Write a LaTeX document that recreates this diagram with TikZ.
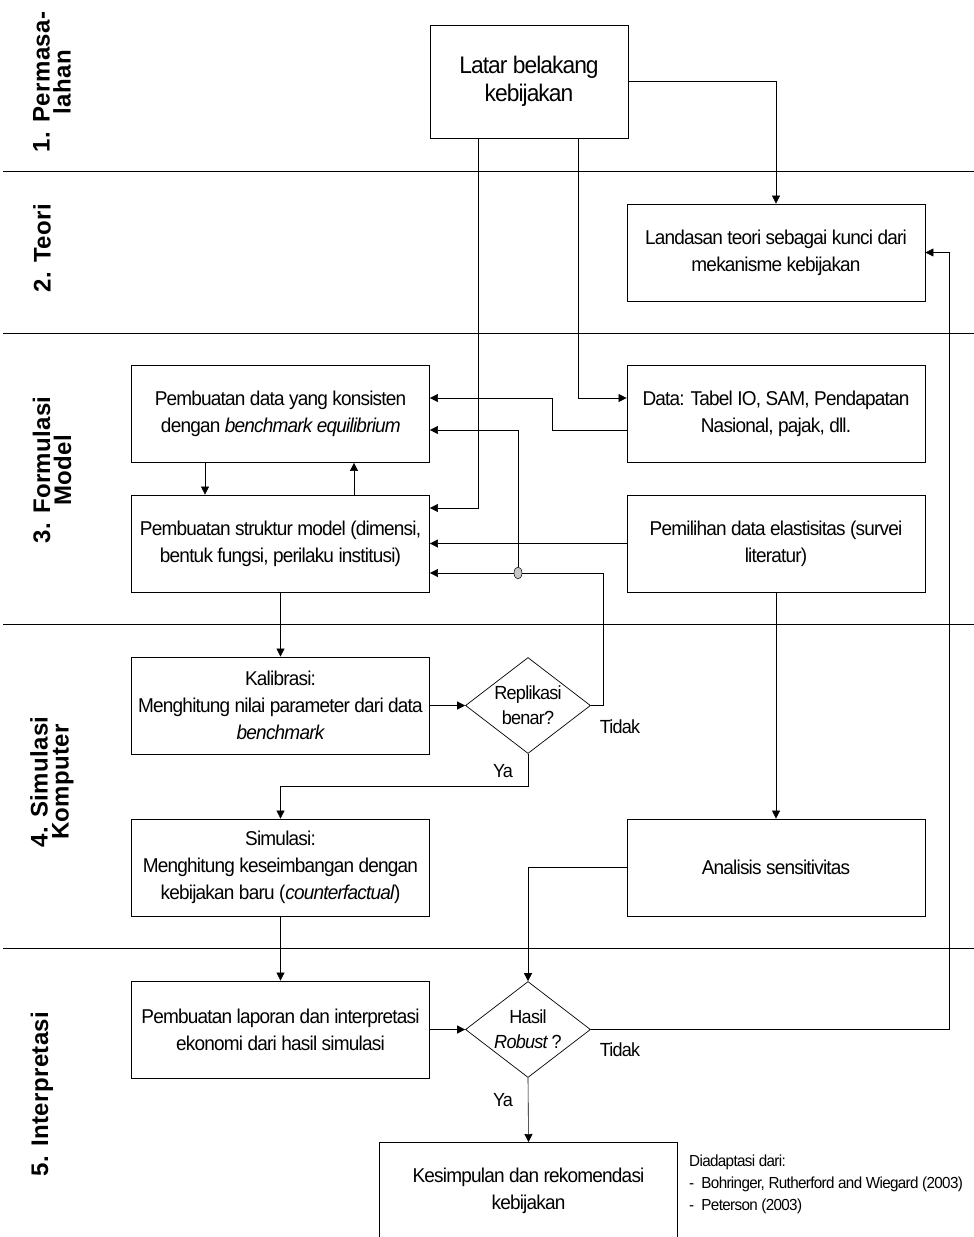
\documentclass[tikz,border=0pt]{standalone}
\usepackage{fontspec}
\setmainfont{Liberation Sans}[FakeStretch=0.95, LetterSpace=-4]
\newfontfamily\lanefont{Liberation Sans}[LetterSpace=1.5]
\usetikzlibrary{arrows.meta,shapes.geometric}
\begin{document}
\begin{tikzpicture}[x=1pt,y=-1pt,
  box/.style={draw, line width=0.8pt, rectangle, minimum width=298pt, minimum height=97pt, align=center, inner sep=2pt, font=\fontsize{20}{27}\selectfont},
  dia/.style={draw, line width=0.7pt, diamond, aspect=1.28, minimum width=125pt, minimum height=96pt, inner sep=0pt, align=center, font=\fontsize{19}{25}\selectfont},
  conn/.style={line width=0.6pt, -{Triangle[length=8pt,width=8pt]}},
  plain/.style={line width=0.6pt},
  sepline/.style={line width=1pt},
  lane/.style={rotate=90, align=center, inner sep=0pt, font=\lanefont\bfseries\fontsize{24}{21}\selectfont},
  lbl/.style={font=\fontsize{19}{20}\selectfont, inner sep=0pt}]
\useasboundingbox[fill=white] (0,0) rectangle (974,1237);

% lane separators
\draw[sepline] (3,171) -- (974,171);
\draw[sepline] (3,333) -- (974,333);
\draw[sepline] (3,624) -- (974,624);
\draw[sepline] (3,948) -- (974,948);

% lane labels
\node[lane] (l1) at (52,82) {1. Permasa-\\lahan};
\node[lane] (l2) at (42,248) {2. Teori};
\node[lane] (l3) at (52,470) {3. Formulasi\\Model};
\node[lane] (l4) at (52,782) {4. Simulasi\\Komputer};
\node[lane] (l5) at (42,1094) {5. Interpretasi};

% boxes
\node[box, minimum width=198pt, minimum height=113pt, font=\fontsize{24}{28}\selectfont] (latar) at (529,81.5) {Latar belakang\\kebijakan};
\node[box] (landasan) at (776,252.5) {Landasan teori sebagai kunci dari\\mekanisme kebijakan};
\node[box] (pd) at (280.5,414) {Pembuatan data yang konsisten\\dengan \textit{benchmark equilibrium}};
\node[box] (data) at (776,414) {Data: Tabel IO, SAM, Pendapatan\\Nasional, pajak, dll.};
\node[box] (ps) at (280.5,543.5) {Pembuatan struktur model (dimensi,\\bentuk fungsi, perilaku institusi)};
\node[box] (pem) at (776,543.5) {Pemilihan data elastisitas (survei\\literatur)};
\node[box] (kal) at (280.5,705.5) {Kalibrasi:\\Menghitung nilai parameter dari data\\\textit{benchmark}};
\node[dia] (rep) at (528,705.5) {Replikasi\\benar?};
\node[box] (sim) at (280.5,867.5) {Simulasi:\\Menghitung keseimbangan dengan\\kebijakan baru (\textit{counterfactual})};
\node[box] (ana) at (776,867.5) {Analisis sensitivitas};
\node[box] (pl) at (280.5,1029.5) {Pembuatan laporan dan interpretasi\\ekonomi dari hasil simulasi};
\node[dia] (has) at (528,1029.5) {Hasil\\\textit{Robust} ?};
\node[box, anchor=north] (kes) at (528.5,1142) {Kesimpulan dan rekomendasi\\kebijakan};

\node[anchor=north west, align=left, inner sep=0pt, font=\fontsize{16}{22}\selectfont] (note) at (689,1155) {Diadaptasi dari:\\- \ Bohringer, Rutherford and Wiegard (2003)\\- \ Peterson (2003)};

% junction
\node[draw, ellipse, fill=gray!45, minimum width=8pt, minimum height=12pt, inner sep=0pt, line width=0.5pt] (jn) at (518,573) {};

% connectors
\draw[conn] (latar.east) -| (landasan.north);
\draw[conn] ([xshift=-51pt]latar.south) |- ([yshift=35.5pt]ps.east);
\draw[conn] ([xshift=49pt]latar.south) |- ([yshift=16pt]data.west);
\draw[conn] ([yshift=-16pt]data.west) -- ++(-74,0) |- ([yshift=16pt]pd.east);
\draw[conn] ([xshift=-75.5pt]pd.south) -- ([xshift=-75.5pt]ps.north);
\draw[conn] ([xshift=73.5pt]ps.north) -- ([xshift=73.5pt]pd.south);
\draw[conn] (pem.west) -- (ps.east);
\draw[plain] (rep.east) -- ++(12,0) |- (jn.east);
\draw[conn] (jn.west) -- (ps.east |- jn.west);
\draw[conn] (jn.north) |- ([yshift=-16pt]pd.east);
\draw[conn] (ps.south) -- (kal.north);
\draw[conn] (pem.south) -- (ana.north);
\draw[conn] (kal.east) -- (rep.west);
\draw[conn] (rep.south) -- ++(0,32) -| (sim.north);
\draw[conn] (sim.south) -- (pl.north);
\draw[conn] (ana.west) -| (has.north);
\draw[conn] (pl.east) -- (has.west);
\draw[conn] (has.east) -| ([xshift=24pt]landasan.east) -- (landasan.east);
\draw[conn] (has.south) -- (kes.north);

% labels
\node[lbl] (t1) at (620,727) {Tidak};
\node[lbl] (y1) at (503,771) {Ya};
\node[lbl] (t2) at (620,1050) {Tidak};
\node[lbl] (y2) at (503,1100) {Ya};
\end{tikzpicture}
\end{document}
